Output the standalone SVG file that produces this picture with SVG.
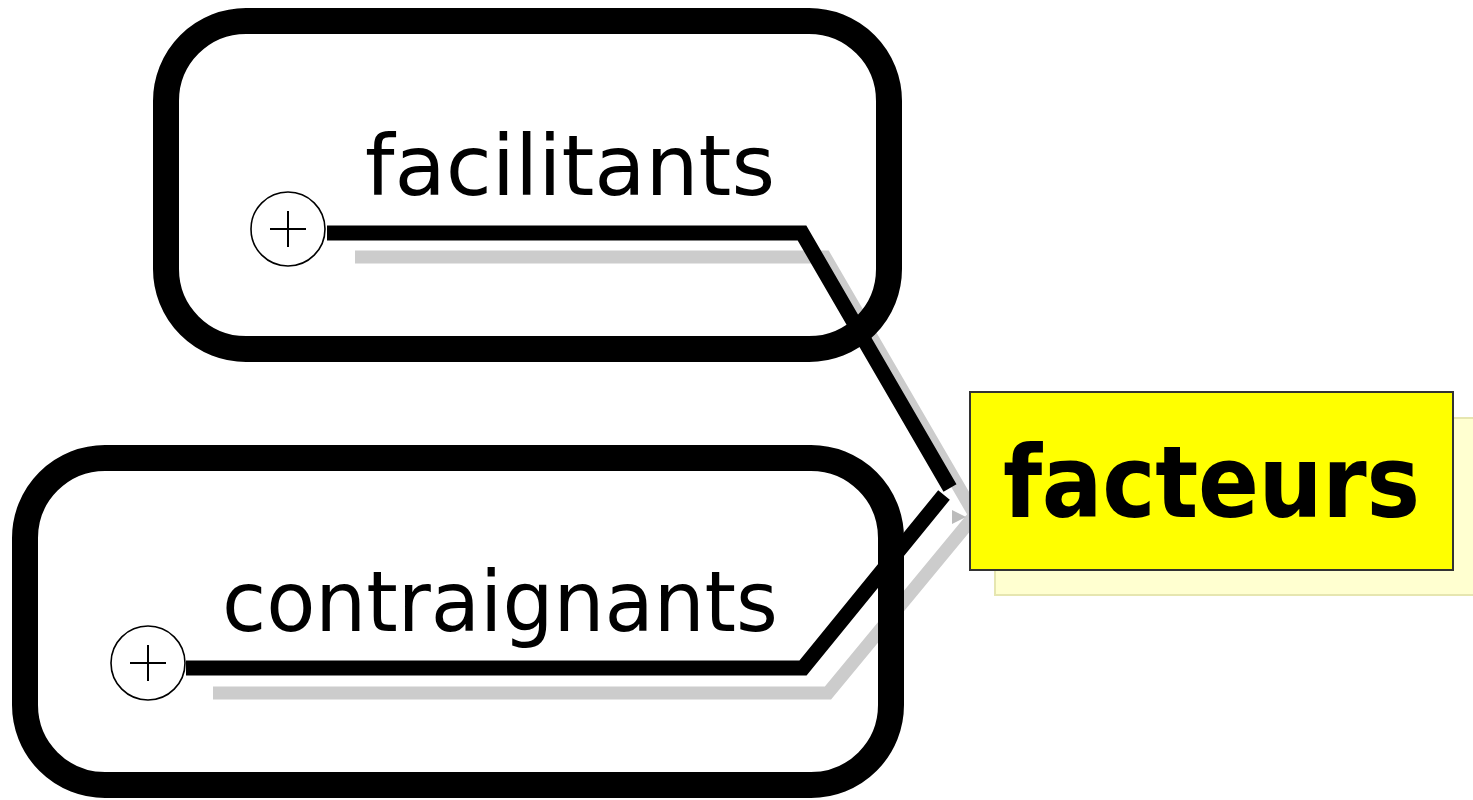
<svg xmlns="http://www.w3.org/2000/svg" width="1473" height="800" viewBox="0 0 1473 800">
  <style>
    .frame { fill: none; stroke: #000; stroke-width: 26; }
    .link { fill: none; stroke: #000; stroke-width: 15; stroke-linejoin: miter; stroke-linecap: butt; }
    .shadow { fill: none; stroke: #cccccc; stroke-width: 13; stroke-linejoin: miter; }
    .toggle { fill: #fff; stroke: #000; stroke-width: 1.6; }
    .plus { stroke: #000; stroke-width: 2; }
    .label { font-family: "DejaVu Sans Condensed", "DejaVu Sans", Verdana, sans-serif; font-stretch: condensed; font-size: 83px; fill: #000; }
    .root { font-family: "DejaVu Sans Condensed", "DejaVu Sans", Verdana, sans-serif; font-stretch: condensed; font-size: 100px; font-weight: bold; fill: #000; }
  </style>
  <rect width="1473" height="800" fill="#fff"/>

  <!-- connector shadows -->
  <g id="connector-shadows">
    <polyline class="shadow" points="355,257 825,257 975,515"/>
    <polyline class="shadow" points="213,693 828,693 975,515"/>
    <polygon points="952,510 966,517 952,524" fill="#bbbbbb"/>
  </g>

  <!-- root node -->
  <g id="node-facteurs">
    <rect x="995" y="418" width="490" height="177" fill="#ffffd0" stroke="#e6e6b0" stroke-width="2"/>
    <rect x="970" y="392" width="483" height="178" fill="#ffff00" stroke="#333" stroke-width="2"/>
    <text class="root" x="1003" y="517" textLength="417" lengthAdjust="spacing">facteurs</text>
  </g>

  <!-- branch connectors -->
  <g id="connectors">
    <polyline class="link" points="327,233 802,233 950,488"/>
    <polyline class="link" points="186,668 803,668 944,495"/>
  </g>

  <!-- child nodes -->
  <g id="node-facilitants">
    <rect class="frame" x="166" y="21" width="723" height="328" rx="80" ry="80"/>
    <text class="label" x="365" y="195" textLength="410" lengthAdjust="spacingAndGlyphs">facilitants</text>
    <circle class="toggle" cx="288" cy="229" r="37"/>
    <line class="plus" x1="270" y1="229" x2="306" y2="229"/>
    <line class="plus" x1="288" y1="211" x2="288" y2="247"/>
  </g>

  <g id="node-contraignants">
    <rect class="frame" x="25" y="458" width="866" height="327" rx="80" ry="80"/>
    <text class="label" x="222" y="631" textLength="556" lengthAdjust="spacingAndGlyphs">contraignants</text>
    <circle class="toggle" cx="148" cy="663" r="37"/>
    <line class="plus" x1="130" y1="663" x2="166" y2="663" stroke="#555"/>
    <line class="plus" x1="148" y1="645" x2="148" y2="681"/>
  </g>
</svg>
